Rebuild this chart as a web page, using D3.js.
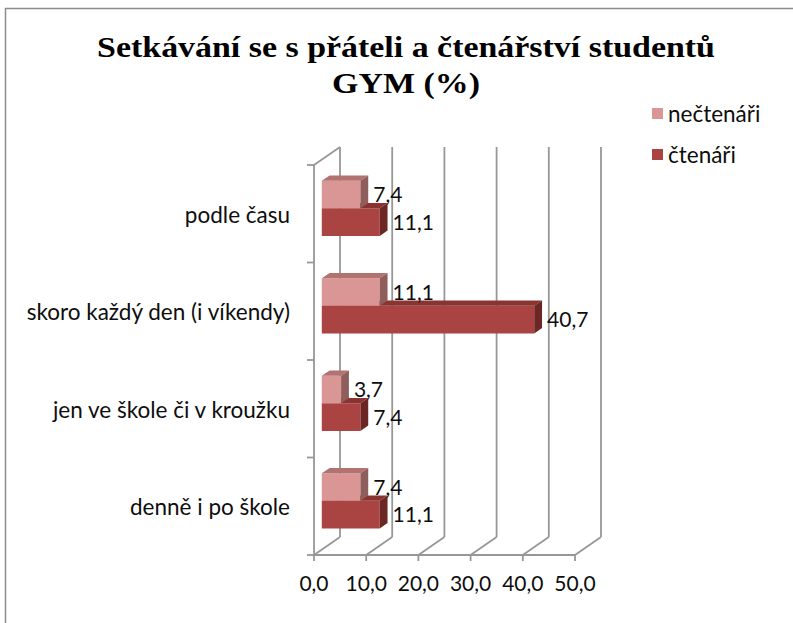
<!DOCTYPE html>
<html lang="cs">
<head>
<meta charset="UTF-8">
<title>Setkávání se s přáteli a čtenářství studentů GYM</title>
<script src="https://cdn.jsdelivr.net/npm/d3@7/dist/d3.min.js"></script>
<style>
  body { margin: 0; background: #fff; }
  svg { display: block; }
</style>
</head>
<body>
<script>
    // data (categories listed bottom -> top, as in the original bar chart)
    var categories = ["denně i po škole", "jen ve škole či v kroužku", "skoro každý den (i víkendy)", "podle času"];
    var seriesNames = ["nečtenáři", "čtenáři"];
    var ctenari = [11.1, 7.4, 40.7, 11.1];
    var nectenari = [7.4, 3.7, 11.1, 7.4];
    var xTicks = [0, 10, 20, 30, 40, 50];

    var width = 793, height = 623;
    var svg = d3.select("body").append("svg")
        .attr("width", width)
        .attr("height", height);

    var fmt = d3.formatLocale({decimal: ",", thousands: " ", grouping: [3], currency: ["", " Kč"]}).format(".1f");
    var font = "Lato, 'Open Sans', sans-serif";
    var textColor = "#0d0d0d";

    // chart border (only top and left edge fall inside the picture)
    svg.append("path")
        .attr("d", "M5.5," + height + "V8.5H" + width)
        .attr("fill", "none")
        .attr("stroke", "#8c8c8c")
        .attr("stroke-width", 1.5);

    // title
    var title = svg.append("g")
        .attr("font-family", "'Liberation Serif', 'Times New Roman', serif")
        .attr("font-weight", "bold")
        .attr("font-size", 29)
        .attr("text-anchor", "middle")
        .attr("fill", "#000");
    var t1 = title.append("text").attr("x", 0).attr("y", 57)
        .text("Setkávání se s přáteli a čtenářství studentů");
    title.append("text").attr("x", 0).attr("y", 93).text("GYM (%)");
    var k = 618 / t1.node().getComputedTextLength();
    title.attr("transform", "translate(406,0) scale(" + k + ",1)");

    // 3D geometry
    var depthX = 26, depthY = -18;
    var x = d3.scaleLinear().domain([0, 50]).range([314, 575]);
    var y = d3.scaleBand().domain(categories.slice().reverse()).range([165, 555]);
    var yInner = d3.scaleBand().domain(seriesNames).range([0, y.bandwidth()]).paddingOuter(0.77);
    var floorY = 555, topY = 165;
    var gridColor = "#979797";

    var grid = svg.append("g")
        .attr("stroke", gridColor)
        .attr("stroke-width", 1.8)
        .attr("fill", "none");

    // back wall vertical gridlines
    grid.selectAll("line.back")
        .data(xTicks)
        .enter()
        .append("line")
        .attr("x1", function (d) { return x(d) + depthX; })
        .attr("x2", function (d) { return x(d) + depthX; })
        .attr("y1", topY + depthY)
        .attr("y2", floorY + depthY);

    // floor diagonals
    grid.selectAll("line.floor")
        .data(xTicks)
        .enter()
        .append("line")
        .attr("x1", function (d) { return x(d); })
        .attr("x2", function (d) { return x(d) + depthX; })
        .attr("y1", floorY)
        .attr("y2", floorY + depthY);

    // front floor edge + x ticks
    grid.append("line")
        .attr("x1", x(0)).attr("x2", x(50))
        .attr("y1", floorY).attr("y2", floorY);
    grid.selectAll("line.xtick")
        .data(xTicks)
        .enter()
        .append("line")
        .attr("x1", function (d) { return x(d); })
        .attr("x2", function (d) { return x(d); })
        .attr("y1", floorY)
        .attr("y2", floorY + 6);

    // left wall: front axis line, top diagonal, category ticks
    grid.append("line")
        .attr("x1", x(0)).attr("x2", x(0))
        .attr("y1", topY).attr("y2", floorY);
    grid.append("line")
        .attr("x1", x(0)).attr("x2", x(0) + depthX)
        .attr("y1", topY).attr("y2", topY + depthY);
    var yTickPos = categories.map(function (c) { return y(c); }).concat([floorY]);
    grid.selectAll("line.ytick")
        .data(yTickPos)
        .enter()
        .append("line")
        .attr("x1", x(0) - 7)
        .attr("x2", x(0))
        .attr("y1", function (d) { return d; })
        .attr("y2", function (d) { return d; });

    // x axis labels
    svg.append("g")
        .attr("font-family", font)
        .attr("font-size", 21)
        .attr("text-anchor", "middle")
        .attr("fill", textColor)
        .selectAll("text")
        .data(xTicks)
        .enter()
        .append("text")
        .attr("x", function (d) { return x(d); })
        .attr("y", 591)
        .text(function (d) { return fmt(d); });

    // category labels
    svg.append("g")
        .attr("font-family", font)
        .attr("font-size", 22.5)
        .attr("text-anchor", "end")
        .attr("fill", textColor)
        .selectAll("text")
        .data(categories)
        .enter()
        .append("text")
        .attr("x", 290)
        .attr("y", function (d) { return y(d) + y.bandwidth() / 2 + 9; })
        .text(function (d) { return d; });

    // bars: front, top and side faces
    var z0 = 0.3, z1 = 0.6;
    var colors = {
        "nečtenáři": {front: "#d99694", top: "#b27270", side: "#8f5d5b"},
        "čtenáři": {front: "#aa4442", top: "#8a3432", side: "#6c2624"}
    };

    var bars = [];
    categories.forEach(function (c, i) {
        bars.push({cat: c, name: "čtenáři", value: ctenari[i]});
        bars.push({cat: c, name: "nečtenáři", value: nectenari[i]});
    });

    function face(d) {
        var xa = x(0) + depthX * z0, xb = x(d.value) + depthX * z0;
        var ya = y(d.cat) + yInner(d.name) + depthY * z0, yb = ya + yInner.bandwidth();
        var ox = depthX * (z1 - z0), oy = depthY * (z1 - z0);
        return {
            front: [[xa, ya], [xb, ya], [xb, yb], [xa, yb]],
            top: [[xa, ya], [xa + ox, ya + oy], [xb + ox, ya + oy], [xb, ya]],
            side: [[xb, ya], [xb + ox, ya + oy], [xb + ox, yb + oy], [xb, yb]],
            labelX: xb + ox + 5,
            labelY: (ya + yb) / 2
        };
    }

    var line = d3.line();
    var barG = svg.append("g")
        .selectAll("g")
        .data(bars)
        .enter()
        .append("g");

    ["front", "top", "side"].forEach(function (f) {
        barG.append("path")
            .attr("d", function (d) { return line(face(d)[f]) + "Z"; })
            .attr("fill", function (d) { return colors[d.name][f]; });
    });

    barG.append("text")
        .attr("x", function (d) { return face(d).labelX; })
        .attr("y", function (d) { return face(d).labelY; })
        .attr("dy", "0.36em")
        .attr("font-family", font)
        .attr("font-size", 21)
        .attr("fill", textColor)
        .text(function (d) { return fmt(d.value); });

    // legend
    var legend = svg.append("g")
        .selectAll("g")
        .data(seriesNames)
        .enter()
        .append("g")
        .attr("transform", function (d, i) { return "translate(652," + (108 + i * 41) + ")"; });
    legend.append("rect")
        .attr("width", 11)
        .attr("height", 11)
        .attr("fill", function (d) { return colors[d].front; });
    legend.append("text")
        .attr("x", 16)
        .attr("y", 14)
        .attr("font-family", font)
        .attr("font-size", 22.5)
        .attr("fill", textColor)
        .text(function (d) { return d; });
</script>
</body>
</html>
